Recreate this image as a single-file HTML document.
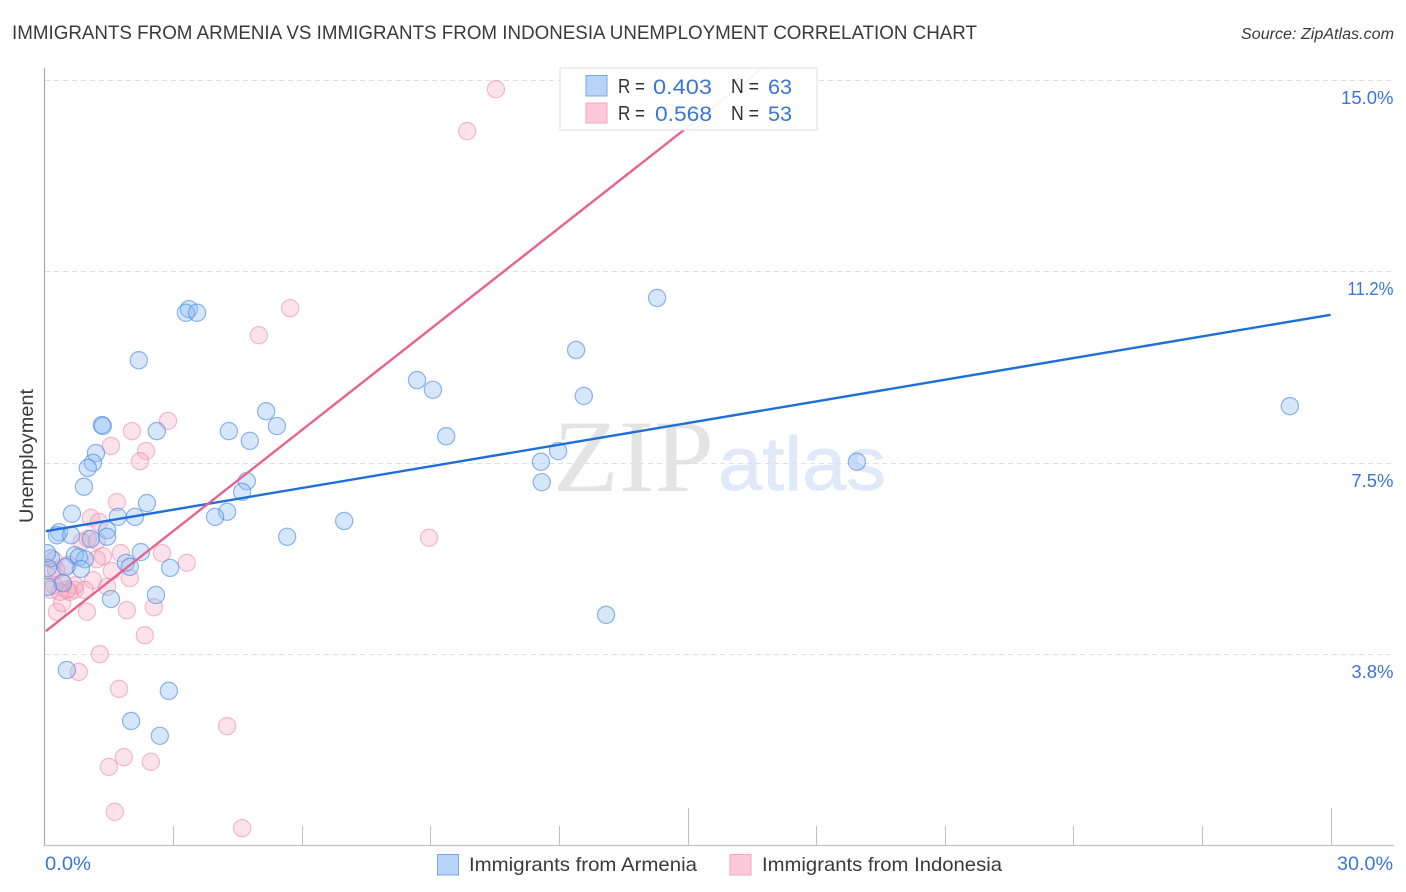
<!DOCTYPE html>
<html lang="en">
<head>
<meta charset="utf-8">
<title>Immigrants from Armenia vs Immigrants from Indonesia Unemployment Correlation Chart</title>
<style>
html,body{margin:0;padding:0;background:#fff;width:1406px;height:892px;overflow:hidden}
svg{display:block;font-family:"Liberation Sans",sans-serif}
</style>
</head>
<body>
<svg id="chart" xmlns="http://www.w3.org/2000/svg" width="1406" height="892" viewBox="0 0 1406 892">
  <defs>
    <clipPath id="plot-clip"><rect x="45" y="60" width="1349" height="785"/></clipPath>
  </defs>
  <rect x="0" y="0" width="1406" height="892" fill="#fff"/>
  <text x="12" y="39" font-size="19.5" fill="#3a3a3a" textLength="965" lengthAdjust="spacingAndGlyphs">IMMIGRANTS FROM ARMENIA VS IMMIGRANTS FROM INDONESIA UNEMPLOYMENT CORRELATION CHART</text>
  <text x="1241" y="39" font-size="15.5" font-style="italic" fill="#3a3a3a" textLength="153" lengthAdjust="spacingAndGlyphs">Source: ZipAtlas.com</text>
  <g>
    <text x="553" y="491" font-family="'Liberation Serif',serif" font-size="103" fill="#e4e4e4" textLength="161" lengthAdjust="spacingAndGlyphs">ZIP</text>
    <text x="718" y="490" font-size="76" fill="#dfe9f9" stroke="#dfe9f9" stroke-width="0.7" textLength="168" lengthAdjust="spacingAndGlyphs">atlas</text>
  </g>
  <g id="grid"></g>
  <g id="axes"></g>
  <g id="pinkDots" clip-path="url(#plot-clip)"></g>
  <g id="blueDots" clip-path="url(#plot-clip)"></g>
  <g id="trends"></g>
  <g>
    <rect x="560" y="68" width="257" height="62" fill="#fff" fill-opacity="0.93" stroke="#ddd" stroke-width="1"/>
    <rect x="586" y="75.5" width="21" height="20.5" fill="#b7d4f7" stroke="#79a8e8" stroke-width="1"/>
    <text x="618" y="93" font-size="20" fill="#333" textLength="27" lengthAdjust="spacingAndGlyphs">R =</text>
    <text x="653" y="94" font-size="21.5" fill="#3a76d6" textLength="59" lengthAdjust="spacingAndGlyphs">0.403</text>
    <text x="731" y="93" font-size="20" fill="#333" textLength="28" lengthAdjust="spacingAndGlyphs">N =</text>
    <text x="768" y="94" font-size="21.5" fill="#3a76d6" textLength="24" lengthAdjust="spacingAndGlyphs">63</text>
    <rect x="586" y="103" width="21" height="20" fill="#fcc9da" stroke="#f1a8c1" stroke-width="1"/>
    <text x="618" y="120" font-size="20" fill="#333" textLength="27" lengthAdjust="spacingAndGlyphs">R =</text>
    <text x="655" y="121" font-size="21.5" fill="#3a76d6" textLength="57" lengthAdjust="spacingAndGlyphs">0.568</text>
    <text x="731" y="120" font-size="20" fill="#333" textLength="28" lengthAdjust="spacingAndGlyphs">N =</text>
    <text x="768" y="121" font-size="21.5" fill="#3a76d6" textLength="24" lengthAdjust="spacingAndGlyphs">53</text>
  </g>
  <text transform="translate(33,523) rotate(-90)" font-size="19" fill="#3a3a3a" textLength="134" lengthAdjust="spacingAndGlyphs">Unemployment</text>
  <g>
    <rect x="437.5" y="854.5" width="21" height="20.5" fill="#b7d4f7" stroke="#79a8e8" stroke-width="1"/>
    <text x="469" y="871" font-size="19.5" fill="#3a3a3a" textLength="228" lengthAdjust="spacingAndGlyphs">Immigrants from Armenia</text>
    <rect x="730" y="854.5" width="21" height="20.5" fill="#fcc9da" stroke="#f1a8c1" stroke-width="1"/>
    <text x="762" y="871" font-size="19.5" fill="#3a3a3a" textLength="240" lengthAdjust="spacingAndGlyphs">Immigrants from Indonesia</text>
  </g>
</svg>
<script>
const armeniaX = [29.05,18.95,14.29,12.40,12.58,11.58,11.98,11.60,13.10,9.37,9.06,8.69,6.99,5.66,5.42,5.17,4.79,4.72,4.61,4.30,4.26,3.98,3.37,3.30,3.56,2.20,2.62,1.34,1.36,1.20,1.13,1.01,0.92,2.39,2.11,1.71,1.46,1.46,0.64,0.34,0.29,0.62,1.08,2.25,1.90,1.99,2.93,2.60,1.55,0.71,0.94,0.80,0.85,0.50,0.43,0.08,0.15,0.08,0.06,0.52,2.90,2.02,2.69];
const armeniaY = [8.61,7.52,10.73,9.71,8.81,7.52,7.73,7.12,4.52,8.02,8.93,9.12,6.36,6.05,8.22,8.51,7.93,7.14,6.93,8.12,6.54,6.44,10.51,10.44,10.44,9.51,8.12,8.24,8.22,7.69,7.50,7.40,7.03,6.71,6.44,6.44,6.18,6.05,6.50,6.14,6.08,6.08,6.01,5.75,5.54,5.46,5.44,4.91,4.83,5.69,5.61,5.65,5.42,5.46,5.14,5.07,5.63,5.44,5.73,3.44,3.03,2.44,2.15];
const indonesiaX = [10.53,9.86,5.73,5.00,2.88,2.04,1.55,2.37,2.23,1.69,1.08,1.27,1.01,0.87,1.22,1.36,1.78,2.74,3.32,1.22,1.57,1.99,1.13,1.46,0.71,0.41,1.92,2.55,0.99,2.34,1.29,0.80,1.74,4.26,1.85,1.50,2.48,1.64,4.61,8.97,0.22,0.17,0.15,0.29,0.41,0.59,0.71,0.52,0.36,0.94,0.55,0.27,0.22];
const indonesiaY = [14.82,14.00,10.53,10.00,8.32,8.12,7.83,7.73,7.53,6.73,6.42,6.34,6.01,5.95,5.97,5.67,5.73,5.73,5.54,5.61,5.38,5.24,5.20,5.07,5.10,5.16,4.61,4.67,4.58,4.12,3.75,3.40,3.07,2.34,1.73,1.54,1.64,0.66,0.34,6.03,5.59,5.36,5.01,4.58,4.75,4.97,5.01,5.01,4.97,5.01,5.50,5.40,5.10];
const armeniaTrendX = [0.03,30];
const armeniaTrendY = [6.16,10.40];
const indonesiaTrendX = [0.03,16.7];
const indonesiaTrendY = [4.20,15.2];
const yTicks = [3.75,7.5,11.25,15];
const yTickLabels = ["3.8%","7.5%","11.2%","15.0%"];
const xTicks = [3,6,9,12,15,18,21,24,27,30];
const xLongTicks = [15,30];
const xEndLabels = ["0.0%","30.0%"];

const NS = 'http://www.w3.org/2000/svg';
const xScale = function(v){ return 44.5 + v * 42.87; };
const yScale = function(v){ return 845.5 - v * 51.03; };
function mk(parent, tag, attrs){
  const el = document.createElementNS(NS, tag);
  Object.keys(attrs).forEach(function(k){ el.setAttribute(k, attrs[k]); });
  parent.appendChild(el);
  return el;
}
const grid = document.getElementById('grid');
const axes = document.getElementById('axes');

yTicks.forEach(function(v, i){
  const y = Math.round(yScale(v)) + 0.5;
  const line = mk(grid, 'line', {x1:45, x2:1393, y1:y, y2:y, stroke:'#e0e0e0', 'stroke-width':1, 'stroke-dasharray':'5 4'});
  
  
  const label = mk(axes, 'text', {x:1393.5, y:y + 23.5, 'text-anchor':'end', 'font-size':18.5, fill:'#3a76d6'});
  label.textContent = yTickLabels[i];
  if (label.textContent.indexOf('11') === 0) {
    label.setAttribute('textLength', '46');
    label.setAttribute('lengthAdjust', 'spacingAndGlyphs');
  }
  
  
});

const yAxis = mk(axes, 'line', {x1:44.5, x2:44.5, y1:68, y2:846, stroke:'#aaa', 'stroke-width':1.2});


const xAxis = mk(axes, 'line', {x1:44, x2:1394, y1:845.5, y2:845.5, stroke:'#c2c2c2', 'stroke-width':1.2});



xTicks.forEach(function(v){
  const x = Math.round(xScale(v)) + 0.5;
  const top = xLongTicks.indexOf(v) >= 0 ? 808 : 826;
  const tick = mk(axes, 'line', {x1:x, x2:x, y1:top, y2:845, stroke:'#c0c0c0', 'stroke-width':1});
  
  
});

const xMin = mk(axes, 'text', {x:45, y:870, 'font-size':19, fill:'#3a76d6', textLength:46, lengthAdjust:'spacingAndGlyphs'});
xMin.textContent = xEndLabels[0];


const xMax = mk(axes, 'text', {x:1337, y:870, 'font-size':19, fill:'#3a76d6', textLength:56, lengthAdjust:'spacingAndGlyphs'});
xMax.textContent = xEndLabels[1];



const pinkGroup = document.getElementById('pinkDots');
indonesiaX.forEach(function(v, i){
  const c = mk(pinkGroup, 'circle', {cx:xScale(v), cy:yScale(indonesiaY[i]), r:8.6, fill:'#f7a8c1', 'fill-opacity':0.32, stroke:'#ea8dad', 'stroke-opacity':0.58, 'stroke-width':1.2});
  
  
});
const blueGroup = document.getElementById('blueDots');
armeniaX.forEach(function(v, i){
  const c = mk(blueGroup, 'circle', {cx:xScale(v), cy:yScale(armeniaY[i]), r:8.6, fill:'#90bcf3', 'fill-opacity':0.36, stroke:'#4a8be2', 'stroke-opacity':0.62, 'stroke-width':1.2});
  
  
});

const trends = document.getElementById('trends');
const blueLine = mk(trends, 'line', {x1:xScale(armeniaTrendX[0]), y1:yScale(armeniaTrendY[0]), x2:xScale(armeniaTrendX[1]), y2:yScale(armeniaTrendY[1]), stroke:'#1f6fd8', 'stroke-width':2.4});


const pinkLine = mk(trends, 'line', {x1:xScale(indonesiaTrendX[0]), y1:yScale(indonesiaTrendY[0]), x2:xScale(indonesiaTrendX[1]), y2:yScale(indonesiaTrendY[1]), stroke:'#e8628f', 'stroke-width':2.4});


</script>
</body>
</html>
